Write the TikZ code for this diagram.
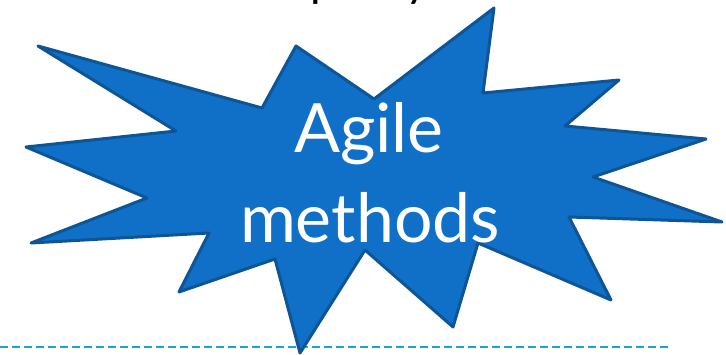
\documentclass[tikz,border=0pt]{standalone}
\usepackage{fontspec}
\setmainfont{Lato}
\definecolor{burstfill}{HTML}{1070C8}
\definecolor{burstline}{HTML}{0E5596}
\definecolor{dashblue}{HTML}{1BA1E2}
\begin{document}
\begin{tikzpicture}[x=1pt,y=-1pt,
  burst/.style={fill=burstfill,draw=burstline,line width=3pt,line join=round},
  label/.style={text=white,font=\fontsize{68}{90}\selectfont,align=center,inner sep=0pt},
  toptext/.style={text=black,font=\fontsize{46}{52}\selectfont,inner sep=0pt,anchor=base},
  sep/.style={draw=dashblue,line width=2pt,dash pattern=on 8pt off 4pt}]
\useasboundingbox (0,0) rectangle (726,355);
\node[toptext] (tp) at (323,-3.5) {p};
\node[toptext] (ty) at (417,-3.5) {y};
\coordinate (la) at (0,347);
\coordinate (lb) at (670,347);
\draw[sep] (la) -- (lb);
\path[burst] (38,46) -- (262,108) -- (296,46) -- (374,99) -- (494,8) -- (483,93)
  -- (619,80) -- (565,126) -- (706,139) -- (593,177) -- (722,222) -- (569,217)
  -- (611,300) -- (478,243) -- (453,327) -- (365,250) -- (300,353) -- (275,259)
  -- (179,292) -- (209,233) -- (31,243) -- (147,198) -- (26,147) -- (176,131) -- cycle;
\node[label,anchor=base] (t1) at (369,153) {Agile};
\node[label,anchor=base] (t2) at (370,243) {methods};
\end{tikzpicture}
\end{document}
